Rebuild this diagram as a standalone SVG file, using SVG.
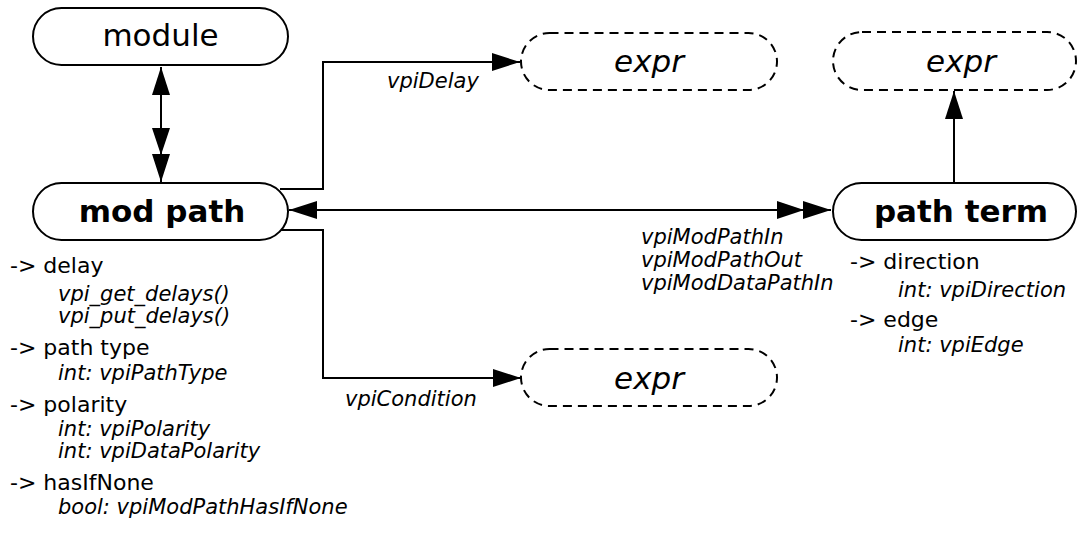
<svg xmlns="http://www.w3.org/2000/svg" width="1082" height="560" viewBox="0 0 1082 560">
<style>
.node{fill:#fff;stroke:#000;stroke-width:2}
.dash{fill:#fff;stroke:#000;stroke-width:2;stroke-dasharray:9 6}
.nt{font-family:"DejaVu Sans",sans-serif;font-size:31px;text-anchor:middle;fill:#000}
.b{font-weight:bold}
.i{font-style:italic}
.hd{font-family:"DejaVu Sans",sans-serif;font-size:22px;fill:#000}
.it{font-family:"DejaVu Sans",sans-serif;font-size:21px;font-style:italic;fill:#000}
.c{fill:none;stroke:#000;stroke-width:2}
</style>
<defs>
<marker id="arr" markerUnits="userSpaceOnUse" viewBox="0 0 28 18" refX="28" refY="9" markerWidth="28" markerHeight="18" orient="auto-start-reverse">
<path d="M0,0 L28,9 L0,18 z" fill="#000"/>
</marker>
<marker id="arr2" markerUnits="userSpaceOnUse" viewBox="0 0 54 18" refX="54" refY="9" markerWidth="54" markerHeight="18" orient="auto">
<path d="M0,0 L27,9 L0,18 z M26,0 L54,9 L26,18 z" fill="#000"/>
</marker>
</defs>
<g id="connectors">
<path class="c" d="M161,67 L161,182" marker-start="url(#arr)" marker-end="url(#arr2)"/>
<path class="c" d="M280,189 H323 V62 H520" marker-end="url(#arr)"/>
<path class="c" d="M289,210 L831,210" marker-start="url(#arr)" marker-end="url(#arr2)"/>
<path class="c" d="M280,230 H323 V378 H521" marker-end="url(#arr)"/>
<path class="c" d="M954,183 V91" marker-end="url(#arr)"/>
<text class="it" x="387" y="88">vpiDelay</text>
<text class="it" x="345" y="406">vpiCondition</text>
<text class="it" x="641" y="244">vpiModPathIn</text>
<text class="it" x="641" y="267">vpiModPathOut</text>
<text class="it" x="641" y="290">vpiModDataPathIn</text>
</g>
<g id="module">
<rect class="node" x="33" y="8" width="255" height="57" rx="28.5"/>
<text class="nt" x="160.5" y="46">module</text>
</g>
<g id="modpath">
<rect class="node" x="33" y="183" width="255" height="57" rx="28.5"/>
<text class="nt b" x="162" y="222">mod path</text>
<text class="hd" x="10" y="273">-&gt; delay</text>
<text class="it" x="58" y="301">vpi_get_delays()</text>
<text class="it" x="58" y="323">vpi_put_delays()</text>
<text class="hd" x="10" y="355">-&gt; path type</text>
<text class="it" x="58" y="380">int: vpiPathType</text>
<text class="hd" x="10" y="412">-&gt; polarity</text>
<text class="it" x="58" y="436">int: vpiPolarity</text>
<text class="it" x="58" y="458">int: vpiDataPolarity</text>
<text class="hd" x="10" y="490">-&gt; hasIfNone</text>
<text class="it" x="58" y="514">bool: vpiModPathHasIfNone</text>
</g>
<g id="pathterm">
<rect class="node" x="833" y="183" width="243" height="57" rx="28.5"/>
<text class="nt b" x="961" y="222">path term</text>
<text class="hd" x="850" y="269">-&gt; direction</text>
<text class="it" x="898" y="297">int: vpiDirection</text>
<text class="hd" x="850" y="327">-&gt; edge</text>
<text class="it" x="898" y="352">int: vpiEdge</text>
</g>
<g id="expr1">
<rect class="dash" x="521" y="33" width="256" height="57" rx="28.5"/>
<text class="nt i" x="649" y="72">expr</text>
</g>
<g id="expr2">
<rect class="dash" x="833" y="32" width="243" height="58" rx="29"/>
<text class="nt i" x="961" y="72">expr</text>
</g>
<g id="expr3">
<rect class="dash" x="521" y="349" width="256" height="57" rx="28.5"/>
<text class="nt i" x="649" y="389">expr</text>
</g>
</svg>
